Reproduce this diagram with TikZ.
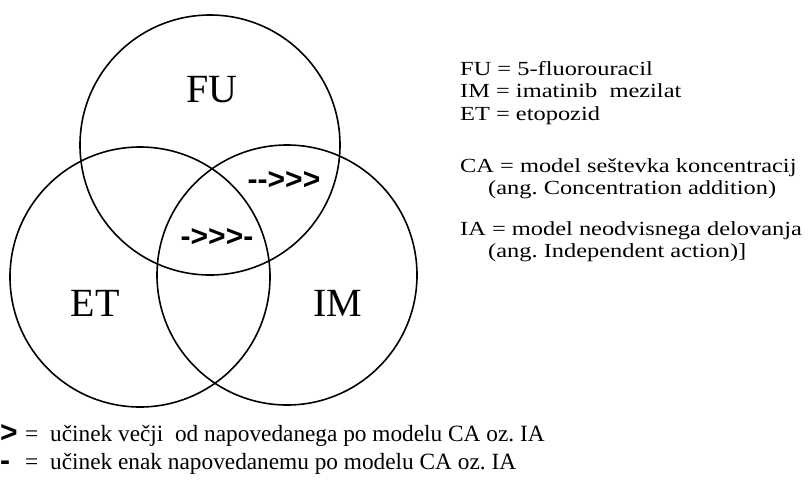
\documentclass[tikz,border=0pt]{standalone}
\usepackage{fontspec}
\usepackage{graphicx}
\setmainfont{Liberation Serif}
\newfontfamily\arialb{Liberation Sans}
\frenchspacing
\newcommand{\widetxt}[1]{\scalebox{1.22}[1]{#1}}
\begin{document}
\begin{tikzpicture}[x=1pt,y=-1pt,
  ring/.style={draw=black,line width=1.6pt},
  big/.style={font=\fontsize{40}{44}\selectfont, inner sep=0pt},
  legend/.style={font=\fontsize{20}{22}\selectfont, inner sep=0pt, anchor=base west},
  low/.style={font=\fontsize{23.3}{26}\selectfont, inner sep=0pt, anchor=base west},
  symb/.style={font=\fontsize{30}{32}\selectfont\arialb\bfseries, inner sep=0pt},
]
\useasboundingbox (0,0) rectangle (810,483);
\draw[ring] (210,145) circle[radius=130pt];
\draw[ring] (140,277) circle[radius=130pt];
\draw[ring] (287,275) circle[radius=130pt];
\node[big] (fu) at (212,90) {FU};
\node[big] (et) at (95,303) {ET};
\node[big] (im) at (338,303) {IM};
\node[symb] (m1) at (284,180) {-{}->>>};
\node[symb] (m2) at (217,237) {->>>-};
\node[legend] (l1) at (460,75) {\widetxt{FU = 5-fluorouracil}};
\node[legend] (l2) at (460,97.5) {\widetxt{IM = imatinib\ \ mezilat}};
\node[legend] (l3) at (460,120) {\widetxt{ET = etopozid}};
\node[legend] (l4) at (460,172) {\widetxt{CA = model seštevka koncentracij}};
\node[legend] (l5) at (488,194.5) {\widetxt{(ang. Concentration addition)}};
\node[legend] (l6) at (460,235) {\widetxt{IA = model neodvisnega delovanja}};
\node[legend] (l7) at (488,257.5) {\widetxt{(ang. Independent action)]}};
\node[symb, anchor=base west] (k1) at (0,442) {>};
\node[low] (e1) at (25,441) {=};
\node[low] (t1) at (50,441) {učinek večji\ \ od napovedanega po modelu CA oz. IA};
\node[symb, anchor=base west] (k2) at (0,470) {-};
\node[low] (e2) at (25,469) {=};
\node[low] (t2) at (50,469) {učinek enak napovedanemu po modelu CA oz. IA};
\end{tikzpicture}
\end{document}
